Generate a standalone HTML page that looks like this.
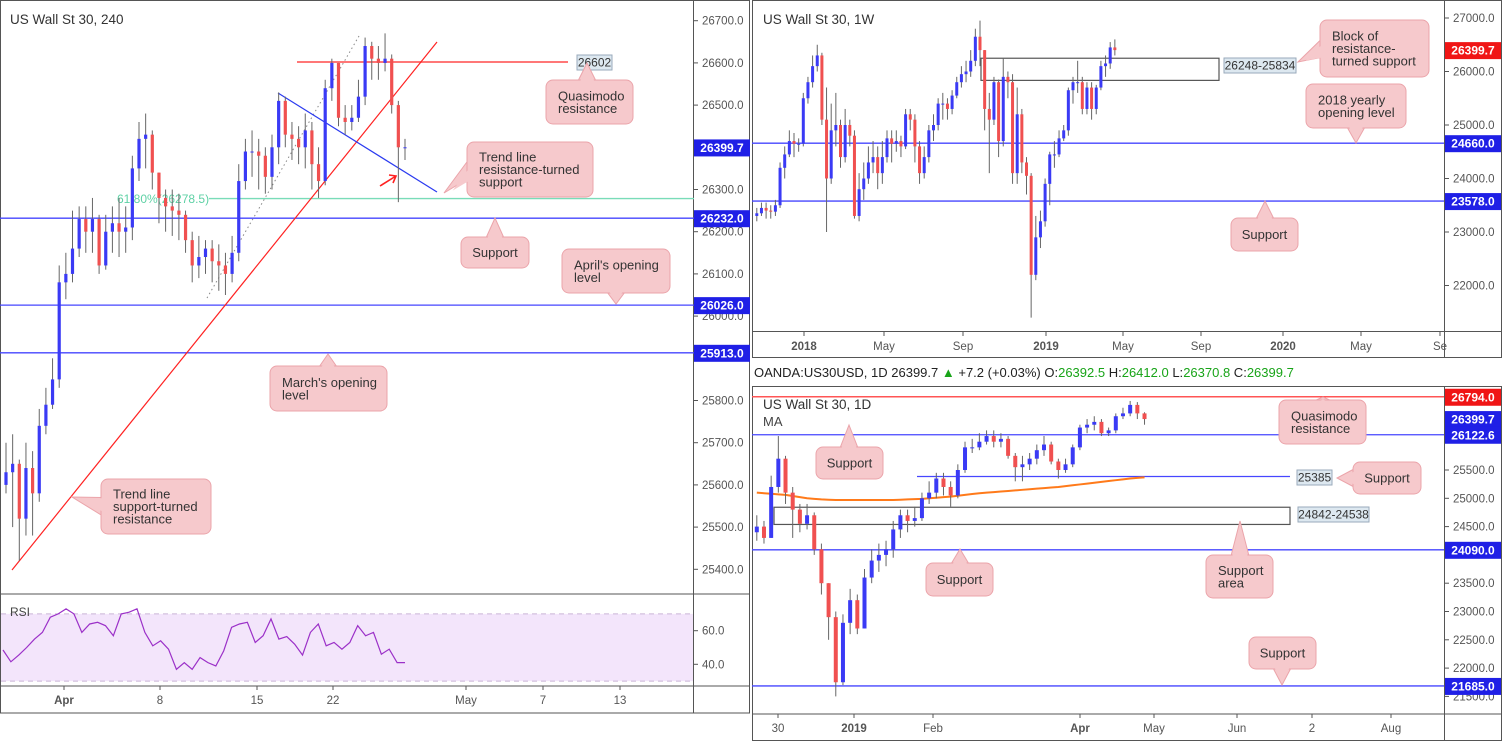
<!DOCTYPE html>
<html><head><meta charset="utf-8"><style>
body{margin:0;background:#fff;}
svg{display:block;font-family:"Liberation Sans",sans-serif;}
</style></head><body>
<svg id="s" width="1504" height="744" viewBox="0 0 1504 744">
<defs>
<clipPath id="cL"><rect x="1" y="1" width="692" height="592"/></clipPath>
<clipPath id="cW"><rect x="753" y="1" width="691" height="330"/></clipPath>
<clipPath id="cD"><rect x="753" y="387" width="691" height="326"/></clipPath>
</defs>
<rect x="0" y="0" width="1504" height="744" fill="#fff"/>
<g id="g"></g>
</svg>
<script>
// ---- Left 4H chart data ----
const L_open0 = 25600;
const L_close = [25630,25650,25520,25640,25580,25740,25790,25850,26080,26100,26160,26230,26200,26230,26120,26200,26220,26200,26210,26350,26420,26430,26340,26280,26260,26250,26240,26180,26120,26140,26160,26130,26120,26100,26150,26320,26390,26390,26380,26330,26400,26510,26430,26420,26400,26440,26360,26320,26540,26600,26470,26460,26470,26520,26640,26610,26600,26610,26500,26400,26400];
const L_high = [25700,25720,25660,25700,25680,25780,25830,25900,26120,26150,26250,26260,26260,26280,26240,26240,26260,26280,26260,26380,26460,26480,26440,26330,26300,26300,26290,26250,26200,26190,26180,26180,26170,26150,26190,26360,26420,26440,26420,26400,26430,26530,26520,26460,26450,26480,26460,26400,26560,26610,26600,26500,26500,26560,26660,26650,26640,26670,26620,26510,26420];
const L_low = [25580,25500,25420,25480,25480,25560,25720,25780,25830,26040,26080,26140,26150,26150,26100,26110,26150,26140,26150,26180,26320,26350,26300,26220,26200,26190,26180,26150,26080,26090,26100,26080,26060,26050,26080,26130,26300,26330,26300,26290,26300,26360,26400,26370,26360,26350,26300,26280,26310,26510,26450,26430,26440,26460,26500,26560,26560,26580,26480,26270,26370];
const L_ticks = [26700,26600,26500,26300,26200,26100,26000,25800,25700,25600,25500,25400];
const L_levels = [26232,26026,25913];
const L_timeLabels = ["Apr","8","15","22","May","7","13"];
const L_timePos = [64,160,257,333,466,543,620];
const RSI = [48.5,41.5,45.5,50,55,59,68,70,73,70,59,64,65,63,57,70,71,73,59,51,54,49,37,41,37,44,41,39,48,62,64,65,53,57,67,55,56.5,52,45.5,59,64,51,53,49,53,63,57,59,46,49,41,41];
const RSI_ticks = [60,40];
// ---- Weekly chart data ----
const W_open0 = 23300;
const W_close = [23350,23450,23400,23380,23500,24200,24450,24700,24650,24650,25500,25800,26100,26300,25100,24000,24900,25000,24400,25000,24800,23300,23800,24000,24300,24400,24100,24400,24750,24650,24700,24600,25200,25100,24600,24100,24400,24900,25000,25400,25400,25300,25550,25800,25950,26000,26200,26650,26400,25300,25100,25800,24700,25900,25800,24100,25200,24300,24050,22200,22900,23200,23900,24450,24450,24750,24900,25650,25800,25800,25300,25700,25300,25700,26100,26150,26450,26400];
const W_high = [23450,23550,23550,23500,23600,24300,24600,24900,24850,24750,25600,25900,26300,26500,26350,25700,25400,25600,25100,25300,25100,24900,24100,24300,24600,24700,24600,24700,24900,24900,24900,24800,25300,25300,25200,24700,24600,25000,25200,25500,25600,25500,25650,25900,26100,26200,26400,26800,26950,26400,25600,25900,25850,26250,26000,25950,25700,25300,24400,24100,23300,23400,24000,24500,24700,24900,25000,25700,25900,26200,25900,25800,25800,25750,26200,26300,26550,26600];
const W_low = [23200,23300,23250,23250,23300,23450,24000,24400,24400,24500,24600,25400,25700,26000,25000,23000,23900,24600,24200,24300,24600,23250,23200,23600,23900,24100,23800,23900,24300,24300,24500,24400,24550,24900,24300,23900,24000,24300,24700,24900,25100,25100,25200,25500,25700,25800,25900,26100,26100,24900,24100,25000,24400,24600,25500,23900,23900,24100,23700,21400,22100,22700,23100,23500,24200,24400,24700,24800,25400,25600,25200,25200,25100,25200,25650,25900,26050,26300];
const W_ticks = [27000,26000,25000,24000,23000,22000];
const W_levels = [24660,23578];
const W_timeLabels = ["2018","May","Sep","2019","May","Sep","2020","May","Se"];
const W_timePos = [804,884,963,1046,1123,1201,1283,1361,1440];
// ---- Daily chart data ----
const D_open0 = 24400;
const D_close = [24500,24300,25200,25700,25100,24800,24550,24700,24100,23500,22900,21750,22800,23200,22700,23600,23900,24000,24100,24450,24700,24600,24650,25000,25100,25350,25200,25050,25500,25900,25900,26000,26100,26000,26050,25750,25550,25600,25700,25850,25950,25650,25500,25600,25900,26250,26300,26350,26150,26200,26450,26500,26650,26500,26400];
const D_high = [24700,24600,25400,26100,25750,25200,24900,24900,24750,24200,23500,23000,22950,23400,23300,23750,24100,24200,24250,24600,24800,24800,24850,25100,25300,25450,25450,25300,25600,26000,26050,26150,26200,26200,26150,26100,25800,25750,25800,25950,26100,26000,25700,25700,25950,26300,26400,26450,26400,26250,26500,26600,26720,26700,26520];
const D_low = [24250,24200,24300,25100,24900,24300,24400,24450,24000,23300,22500,21500,21700,22600,22600,22700,23500,23700,23800,23950,24300,24400,24500,24600,24900,25000,25050,24850,25000,25450,25800,25850,25950,25900,25900,25700,25300,25300,25500,25600,25750,25600,25350,25450,25550,25850,26150,26200,26100,26100,26150,26400,26450,26400,26300];
const D_ma = [25100,25090,25080,25070,25060,25040,25020,25000,24990,24980,24975,24970,24970,24970,24970,24970,24970,24970,24970,24970,24975,24980,24985,24990,25000,25010,25020,25030,25045,25060,25075,25090,25100,25110,25120,25130,25140,25150,25160,25170,25180,25190,25200,25215,25230,25245,25260,25275,25290,25305,25320,25335,25350,25360,25370];
const D_ticks = [25500,25000,24500,23500,23000,22500,22000,21500];
const D_levels = [26122.6,24090,21685];
const D_timeLabels = ["30","2019","Feb","Apr","May","Jun","2","Aug"];
const D_timePos = [778,854,933,1080,1154,1237,1312,1391];

const NS="http://www.w3.org/2000/svg";
const G=document.getElementById('g');
function el(tag,attrs,parent){const e=document.createElementNS(NS,tag);for(const k in attrs)e.setAttribute(k,attrs[k]);(parent||G).appendChild(e);return e;}
function txt(x,y,s,attrs,parent){const e=el('text',Object.assign({x:x,y:y},attrs||{}),parent);e.textContent=s;return e;}

// axis functions
const yL=v=>20.7+(26700-v)*0.422;
const xL=i=>6+i*6.65;
const yR=v=>630.7+(60-v)*1.68;
const xR=i=>3+i*(402/(RSI.length-1));
const yW=v=>18+(27000-v)*0.0535;
const xW=i=>756.8+i*4.65;
const yD=v=>470+(25500-v)*0.0566;
const xD=i=>756.8+i*7.18;

const UP="#3a3af5", DN="#f05050", BLUE="#4646ff";

function candles(open0,c,h,l,xf,yf,bw,clip,name){
  const g=el('g',{'clip-path':'url(#'+clip+')'});
  
  
  for(let i=0;i<c.length;i++){
    const o=i===0?open0:c[i-1], cl=c[i];
    const hi=Math.max(h[i],o,cl), lo=Math.min(l[i],o,cl);
    const x=xf(i);
    const w=el('line',{x1:x,x2:x,y1:yf(hi),y2:yf(lo),stroke:'#666','stroke-width':1},g);
    
    
    const top=yf(Math.max(o,cl)), bot=yf(Math.min(o,cl));
    const r=el('rect',{x:x-bw/2,y:top,width:bw,height:Math.max(1,bot-top),fill:cl>=o?UP:DN},g);
    
    
  }
}
function hline(x1,x2,y,color,w,name){const e=el('line',{x1:x1,x2:x2,y1:y,y2:y,stroke:color,'stroke-width':w||1.3});return e;}
function axisLabel(x,y,s,bg,name){
  const g=el('g',{});
  el('rect',{x:x,y:y-8,width:56,height:17,fill:bg},g);
  txt(x+28,y+4.5,s,{'font-size':12,'font-weight':'bold',fill:'#fff','text-anchor':'middle'},g);
}
function callout(x,y,w,h,lines,px,py,side,name){
  const g=el('g',{});
  let tri;
  const cx=x+w/2, cy=y+h/2;
  if(side==='up') tri=[[px-9,y+1],[px,py],[px+9,y+1]];
  else if(side==='down') tri=[[px-9,y+h-1],[px,py],[px+9,y+h-1]];
  else tri=[[x+1,cy-9],[px,py],[x+1,cy+9]];
  el('polygon',{points:tri.map(p=>p.join(',')).join(' '),fill:'#f6c9cc',stroke:'#eba4aa','stroke-width':1},g);
  el('rect',{x:x,y:y,width:w,height:h,rx:7,fill:'#f6c9cc',stroke:'#eba4aa','stroke-width':1},g);
  el('polygon',{points:tri.map((p,k)=>k===1?[p[0]+(cx-p[0])*0.1,p[1]+(cy-p[1])*0.1]:[p[0]+(cx-p[0])*0.1,p[1]+(cy-p[1])*0.1]).map(p=>p.join(',')).join(' '),fill:'#f6c9cc'},g);
  el('rect',{x:x+1,y:y+1,width:w-2,height:h-2,rx:6,fill:'#f6c9cc'},g);
  const lh=12.5, y0=cy-(lines.length-1)*lh/2+4.5;
  lines.forEach((s,k)=>txt(x+(lines.length>1?12:w/2),y0+k*lh,s,{'font-size':13,fill:'#333','text-anchor':lines.length>1?'start':'middle'},g));
}
function valBox(x,y,w,s,name){
  const g=el('g',{});
  el('rect',{x:x,y:y,width:w,height:15,fill:'#dde8f0',stroke:'#9ab','stroke-width':1},g);
  txt(x+w/2,y+11.5,s,{'font-size':12,fill:'#333','text-anchor':'middle'},g);
}
function priceTicks(ticks,yf,x,name){
  const g=el('g',{});
  ticks.forEach(v=>{const y=yf(v);el('line',{x1:x,x2:x+4,y1:y,y2:y,stroke:'#555'},g);txt(x+8,y+4,v.toFixed(v%1?4:1).replace(/(\.\d)0+$/,'$1'),{'font-size':11.5,fill:'#555'},g);});
}
function timeTicks(labels,pos,yTop,name){
  const g=el('g',{});
  labels.forEach((s,k)=>{el('line',{x1:pos[k],x2:pos[k],y1:yTop,y2:yTop+4,stroke:'#555'},g);txt(pos[k],yTop+18,s,{'font-size':11.5,fill:'#555','text-anchor':'middle','font-weight':/^\d{4}$/.test(s)||s==='Apr'?'bold':'normal'},g);});
}

// ===== LEFT PANEL =====
el('rect',{x:0.5,y:0.5,width:749,height:712.5,fill:'none',stroke:'#555'});
hline(0,750,594,'#555',1,'left-pane-divider');
hline(0,750,686,'#555',1,'left-time-axis-divider');
el('line',{x1:693.5,x2:693.5,y1:0,y2:713,stroke:'#555'});
// RSI pane
const rb=el('rect',{x:1,y:yR(70),width:692,height:yR(30)-yR(70),fill:'#f3e5fb'});
[70,30].forEach(v=>{const e=el('line',{x1:1,x2:693,y1:yR(v),y2:yR(v),stroke:'#c9b5d6','stroke-dasharray':'5,4'});});
const rp=el('polyline',{points:RSI.map((v,i)=>xR(i)+','+yR(v)).join(' '),fill:'none',stroke:'#9b30c8','stroke-width':1.2});

txt(10,616,'RSI',{'font-size':12,fill:'#444'});
priceTicks(RSI_ticks.map(v=>v),yR,694,'rsi-axis');
// main left
txt(10,24,'US Wall St 30, 240',{'font-size':13.5,fill:'#333'});
L_levels.forEach(v=>hline(0,694,yL(v),BLUE,1.3,'level-'+v));
hline(209,694,yL(26278.5),'#79dcb8',1.3,'fib-618-line');
txt(117,203,'61.80%(26278.5)',{'font-size':12,fill:'#5ed1a5'});
hline(297,568,yL(26602),'#f77',2,'qm-resistance-26602');
const gl=el('g',{'clip-path':'url(#cL)'});
el('line',{x1:207,y1:298,x2:359,y2:36,stroke:'#888','stroke-dasharray':'1.5,3'},gl);
el('line',{x1:12,y1:570,x2:437,y2:42,stroke:'#f22','stroke-width':1.2},gl);
el('line',{x1:278,y1:93,x2:437,y2:192,stroke:'#2b3bf0','stroke-width':1.2},gl);
candles(L_open0,L_close,L_high,L_low,xL,yL,3.2,'cL','left-candles');
el('path',{d:'M380,186 L396,176 M389,175 L396,176 L393,183',stroke:'#f22','stroke-width':1.6,fill:'none'});
valBox(577,55,35,'26602','label-26602');
callout(546,80,87,44,['Quasimodo','resistance'],587,63,'up','callout-quasimodo');
callout(467,142,126,55,['Trend line','resistance-turned','support'],444,193,'left','callout-trendline-support');
callout(461,237,68,31,['Support'],495,218,'up','callout-support-left');
callout(562,249,108,44,["April's opening","level"],616,304,'down','callout-april-open');
callout(270,366,117,45,["March's opening","level"],328,354,'up','callout-march-open');
callout(101,479,110,55,['Trend line','support-turned','resistance'],72,497,'left','callout-trendline-resistance');
priceTicks(L_ticks,yL,694,'left-price-axis');
axisLabel(694,yL(26399.7),'26399.7','#1f1fe6','label-last-price-left');
L_levels.forEach(v=>axisLabel(694,yL(v),v.toFixed(1),'#1f1fe6','label-level-'+v));
timeTicks(L_timeLabels,L_timePos,686,'left-time-axis');

// ===== RIGHT TOP (WEEKLY) =====
el('rect',{x:752.5,y:0.5,width:749,height:357,fill:'none',stroke:'#555'});
hline(752,1502,331.5,'#555',1,'weekly-time-axis-divider');
el('line',{x1:1444.5,x2:1444.5,y1:0,y2:358,stroke:'#555'});
txt(763,24,'US Wall St 30, 1W',{'font-size':13.5,fill:'#333'});
W_levels.forEach(v=>hline(752,1444,yW(v),BLUE,1.3,'weekly-level-'+v));
const bx=el('rect',{x:981,y:yW(26248),width:238,height:yW(25834)-yW(26248),fill:'none',stroke:'#555','stroke-width':1.2});
candles(W_open0,W_close,W_high,W_low,xW,yW,3,'cW','weekly-candles');
valBox(1224,58,72,'26248-25834','label-weekly-block');
callout(1320,20,109,57,['Block of','resistance-','turned support'],1298,62,'left','callout-block');
callout(1306,84,100,44,['2018 yearly','opening level'],1356,143,'down','callout-2018-open');
callout(1231,218,67,33,['Support'],1265,201,'up','callout-weekly-support');
priceTicks(W_ticks,yW,1445,'weekly-price-axis');
axisLabel(1445,yW(26399.7),'26399.7','#f01515','label-last-price-weekly');
W_levels.forEach(v=>axisLabel(1445,yW(v),v.toFixed(1),'#1f1fe6','label-weekly-'+v));
timeTicks(W_timeLabels,W_timePos,332,'weekly-time-axis');

// ===== RIGHT BOTTOM (DAILY) =====
const hdr=el('text',{x:754,y:377,'font-size':13,fill:'#222'});
hdr.innerHTML='<tspan>OANDA:US30USD, 1D 26399.7 </tspan><tspan fill="#18a418">▲</tspan><tspan> +7.2 (+0.03%) O:</tspan><tspan fill="#18a418">26392.5</tspan><tspan> H:</tspan><tspan fill="#18a418">26412.0</tspan><tspan> L:</tspan><tspan fill="#18a418">26370.8</tspan><tspan> C:</tspan><tspan fill="#18a418">26399.7</tspan>';
el('rect',{x:752.5,y:386.5,width:749,height:354,fill:'none',stroke:'#555'});
hline(752,1502,714,'#555',1,'daily-time-axis-divider');
el('line',{x1:1444.5,x2:1444.5,y1:386,y2:741,stroke:'#555'});
hline(752,1444,yD(26794),'#f55',1.5,'daily-qm-resistance');
D_levels.forEach(v=>hline(752,1444,yD(v),BLUE,1.3,'daily-level-'+v));
hline(917,1290,yD(25385),BLUE,1.3,'daily-support-25385');
const bx2=el('rect',{x:774,y:yD(24842),width:516,height:yD(24538)-yD(24842),fill:'none',stroke:'#555','stroke-width':1.2});
const ma=el('polyline',{points:D_ma.map((v,i)=>xD(i)+','+yD(v)).join(' '),fill:'none',stroke:'#ff7a1a','stroke-width':2,'clip-path':'url(#cD)'});

candles(D_open0,D_close,D_high,D_low,xD,yD,4,'cD','daily-candles');
txt(763,409,'US Wall St 30, 1D',{'font-size':13.5,fill:'#333'});
txt(763,426,'MA',{'font-size':13,fill:'#444'});
valBox(1297,470,35,'25385','label-25385');
valBox(1298,507,71,'24842-24538','label-support-area');
callout(1279,400,87,44,['Quasimodo','resistance'],1323,397,'up','callout-daily-quasimodo');
callout(816,447,67,32,['Support'],849,425,'up','callout-daily-support-1');
callout(1353,462,68,32,['Support'],1337,478,'left','callout-daily-support-2');
callout(926,563,67,33,['Support'],960,549,'up','callout-daily-support-3');
callout(1206,555,67,43,['Support','area'],1240,521,'up','callout-daily-support-area');
callout(1249,637,67,32,['Support'],1282,685,'down','callout-daily-support-4');
priceTicks(D_ticks,yD,1445,'daily-price-axis');
axisLabel(1445,yD(26794),'26794.0','#f01515','label-daily-26794');
axisLabel(1445,yD(26399.7),'26399.7','#1f1fe6','label-last-price-daily');
D_levels.forEach(v=>axisLabel(1445,yD(v),v.toFixed(1),'#1f1fe6','label-daily-'+v));
timeTicks(D_timeLabels,D_timePos,714,'daily-time-axis');
</script>
</body></html>
